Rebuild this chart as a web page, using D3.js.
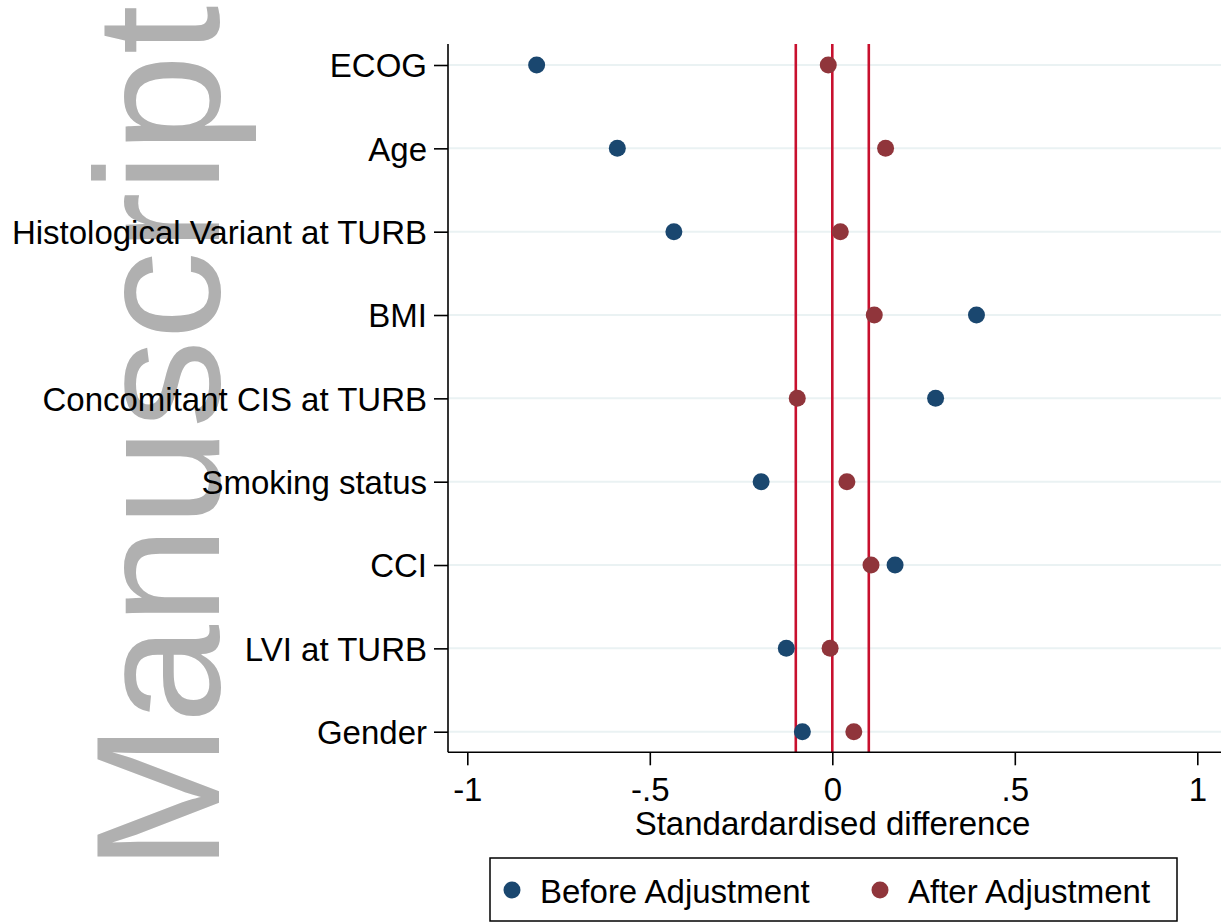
<!DOCTYPE html>
<html>
<head>
<meta charset="utf-8">
<script src="https://cdn.jsdelivr.net/npm/d3@7/dist/d3.min.js"></script>
<style>
  html, body { margin: 0; padding: 0; background: #fff; }
  svg { display: block; }
  text { font-family: "Liberation Sans", Arial, Helvetica, sans-serif; }
</style>
</head>
<body>
<svg id="chart" width="1221" height="922"></svg>
<script>
// ---- data ----
const categories = ["ECOG", "Age", "Histological Variant at TURB", "BMI",
  "Concomitant CIS at TURB", "Smoking status", "CCI", "LVI at TURB", "Gender"];
const beforeAdjustment = [-0.810, -0.589, -0.434, 0.395, 0.283, -0.195, 0.172, -0.126, -0.082];
const afterAdjustment  = [-0.011, 0.146, 0.022, 0.115, -0.096, 0.040, 0.106, -0.006, 0.059];
const xTicks = [-1, -0.5, 0, 0.5, 1];
const xTickLabels = ["-1", "-.5", "0", ".5", "1"];
const referenceLines = [-0.1, 0, 0.1];
const seriesNames = ["Before Adjustment", "After Adjustment"];
const xTitle = "Standardardised difference";
const watermark = "Manuscript";

// ---- styles ----
const colBefore = "#1a476f";
const colAfter = "#90353b";
const colRef = "#c8102e";
const colGrid = "#eaf2f3";

const svg = d3.select("#chart");

// watermark
svg.append("text")
  .attr("transform", "translate(219,871) rotate(-90)")
  .attr("font-size", 177)
  .attr("fill", "#b0b0b0")
  .text(watermark);

const x = d3.scaleLinear().domain([-1, 1]).range([467.3, 1197.3]);
const y = d3.scalePoint().domain(categories).range([65, 731.7]);
const plotLeft = 448, plotRight = 1221, plotTop = 44, plotBottom = 752.3;

// gridlines
svg.append("g").selectAll("line").data(categories).join("line")
  .attr("x1", plotLeft).attr("x2", plotRight)
  .attr("y1", d => y(d)).attr("y2", d => y(d))
  .attr("stroke", colGrid).attr("stroke-width", 2);

// reference lines
svg.append("g").selectAll("line").data(referenceLines).join("line")
  .attr("x1", d => x(d)).attr("x2", d => x(d))
  .attr("y1", plotTop).attr("y2", plotBottom)
  .attr("stroke", colRef).attr("stroke-width", 2.6);

// y axis
const yAxis = d3.axisLeft(y).tickSize(14).tickPadding(7);
const gy = svg.append("g").attr("transform", `translate(${plotLeft},0)`).call(yAxis);
gy.select(".domain").remove();
gy.append("line").attr("x1", 0).attr("x2", 0).attr("y1", plotTop).attr("y2", plotBottom)
  .attr("stroke", "#000").attr("stroke-width", 1.6);
gy.selectAll(".tick line").attr("stroke", "#000").attr("stroke-width", 1.6);
gy.selectAll(".tick text").attr("font-size", 33).attr("fill", "#000")
  .attr("font-family", "'Liberation Sans', Arial, sans-serif").attr("dy", "0.36em");

// x axis
const xAxis = d3.axisBottom(x).tickValues(xTicks)
  .tickFormat((d, i) => xTickLabels[i]).tickSize(13).tickPadding(12);
const gx = svg.append("g").attr("transform", `translate(0,${plotBottom})`).call(xAxis);
gx.select(".domain").remove();
gx.append("line").attr("x1", plotLeft).attr("x2", plotRight).attr("y1", 0).attr("y2", 0)
  .attr("stroke", "#000").attr("stroke-width", 1.6);
gx.selectAll(".tick line").attr("stroke", "#000").attr("stroke-width", 1.6);
gx.selectAll(".tick text").attr("font-size", 33).attr("fill", "#000")
  .attr("font-family", "'Liberation Sans', Arial, sans-serif").attr("dy", "0.71em");

// x title
svg.append("text").attr("x", 832.5).attr("y", 835).attr("text-anchor", "middle")
  .attr("font-size", 33).attr("fill", "#000").text(xTitle);

// points
const pts = svg.append("g");
pts.selectAll("circle.before").data(categories).join("circle").attr("class", "before")
  .attr("cx", (d, i) => x(beforeAdjustment[i])).attr("cy", d => y(d))
  .attr("r", 8.5).attr("fill", colBefore);
pts.selectAll("circle.after").data(categories).join("circle").attr("class", "after")
  .attr("cx", (d, i) => x(afterAdjustment[i])).attr("cy", d => y(d))
  .attr("r", 8.5).attr("fill", colAfter);

// legend
const lg = svg.append("g");
lg.append("rect").attr("x", 490).attr("y", 858).attr("width", 687).attr("height", 63)
  .attr("fill", "#fff").attr("stroke", "#000").attr("stroke-width", 1.5);
const legendItems = [
  { name: seriesNames[0], color: colBefore, cx: 512, tx: 540 },
  { name: seriesNames[1], color: colAfter, cx: 880, tx: 908 }
];
lg.selectAll("circle").data(legendItems).join("circle")
  .attr("cx", d => d.cx).attr("cy", 890).attr("r", 8.5).attr("fill", d => d.color);
lg.selectAll("text").data(legendItems).join("text")
  .attr("x", d => d.tx).attr("y", 903).attr("font-size", 33).attr("fill", "#000")
  .text(d => d.name);
</script>
</body>
</html>
